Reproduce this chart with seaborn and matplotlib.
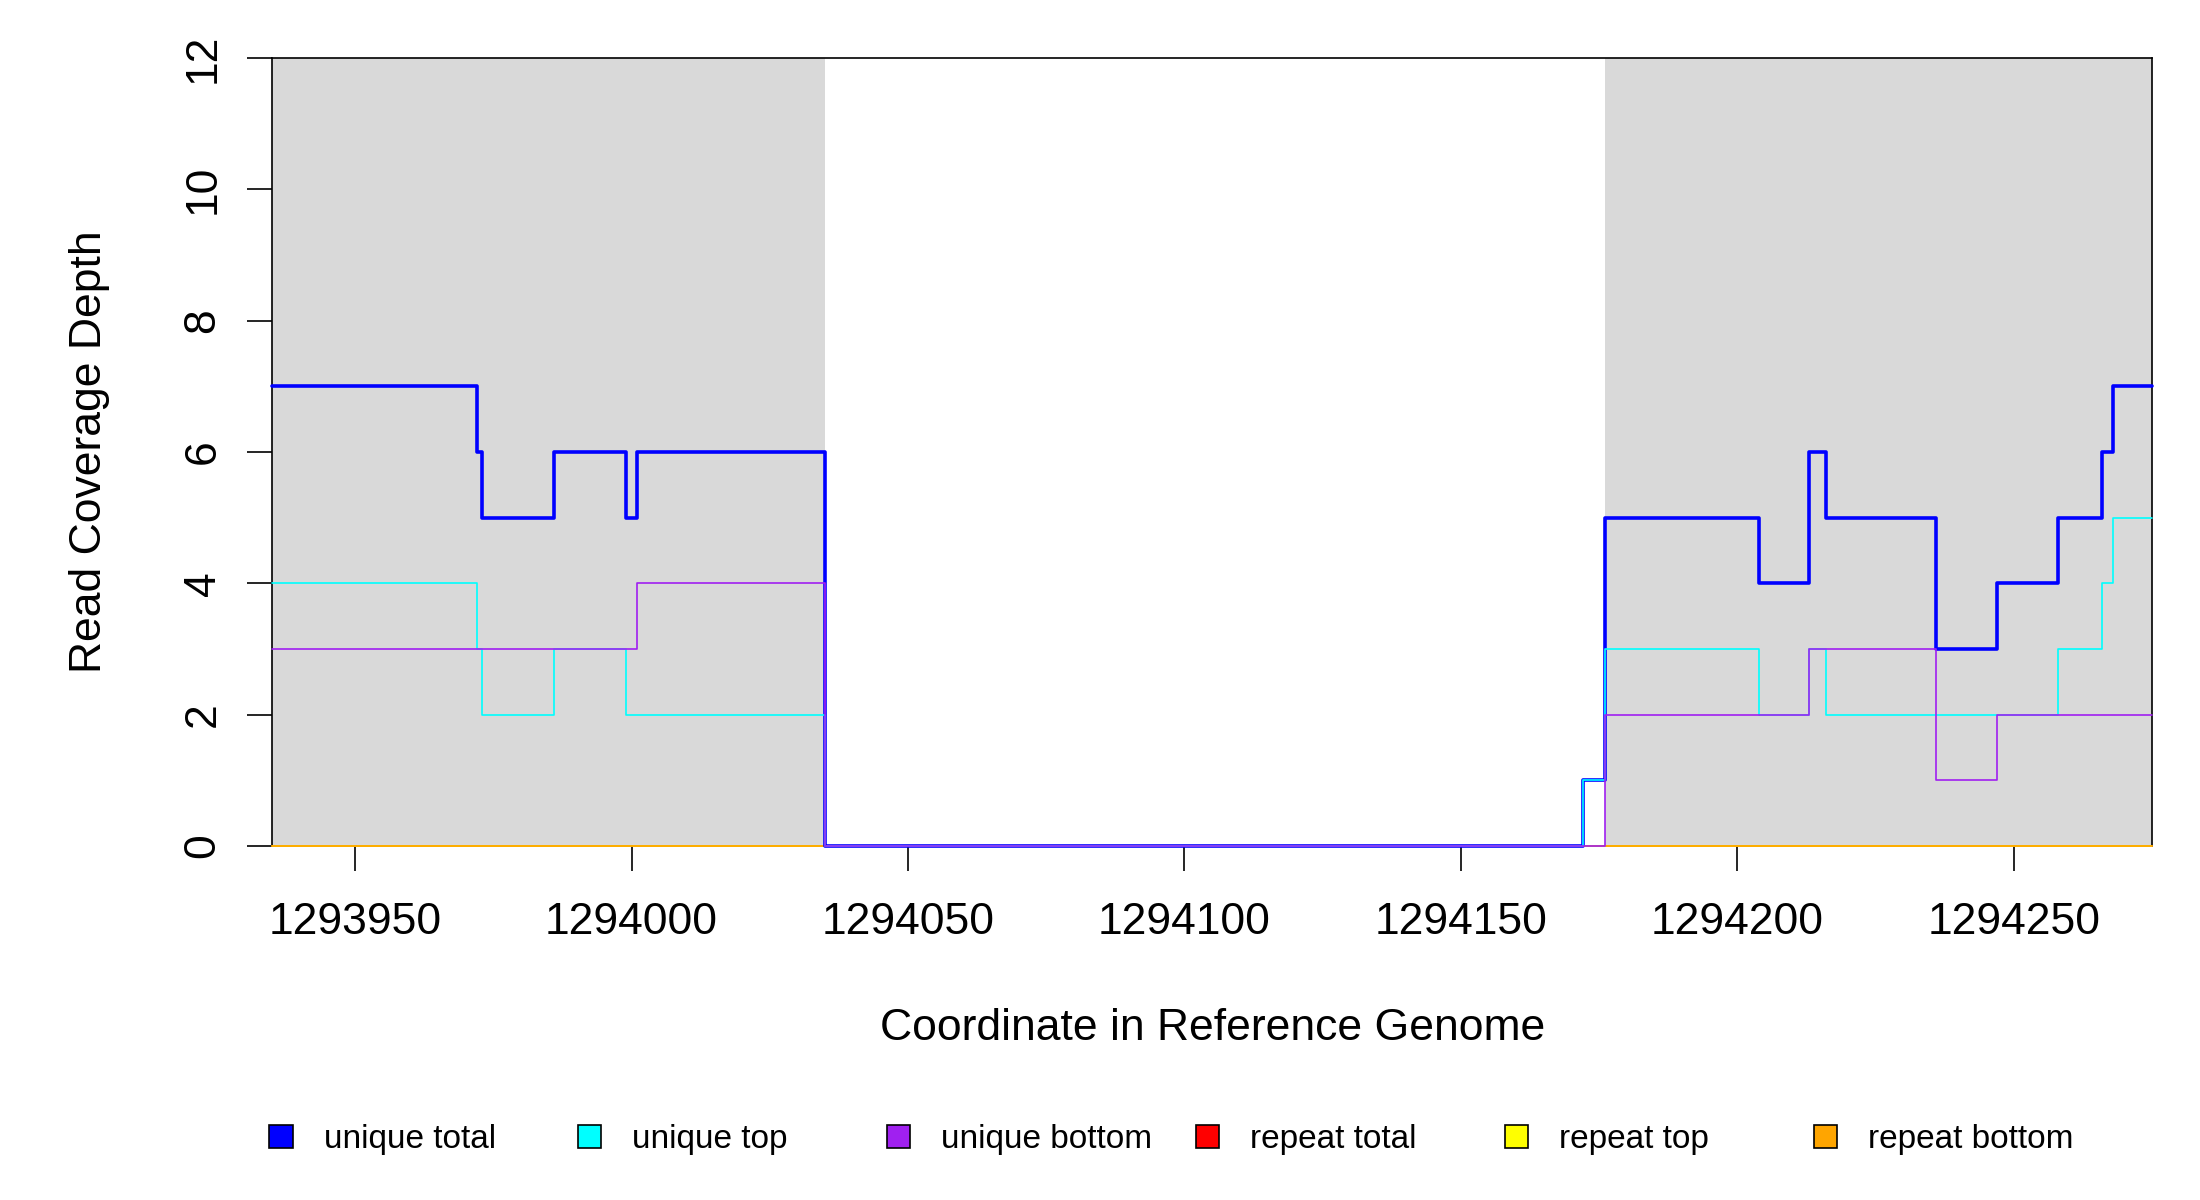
import pandas as pd
import matplotlib
matplotlib.use("Agg")
import matplotlib.pyplot as plt
from matplotlib.patches import Patch
import seaborn as sns

# step breakpoints (coordinate) and depth values, steps-post
unique_total_x = [1293935, 1293972, 1293973, 1293986, 1293999, 1294001, 1294035, 1294172, 1294176,
                  1294204, 1294213, 1294216, 1294236, 1294247, 1294258, 1294266, 1294268, 1294275]
unique_total_y = [7, 6, 5, 6, 5, 6, 0, 1, 5, 4, 6, 5, 3, 4, 5, 6, 7, 7]

unique_top_x = [1293935, 1293972, 1293973, 1293986, 1293999, 1294035, 1294172, 1294176, 1294204,
                1294213, 1294216, 1294258, 1294266, 1294268, 1294275]
unique_top_y = [4, 3, 2, 3, 2, 0, 1, 3, 2, 3, 2, 3, 4, 5, 5]

unique_bottom_x = [1293935, 1294001, 1294035, 1294176, 1294213, 1294236, 1294247, 1294275]
unique_bottom_y = [3, 4, 0, 2, 3, 1, 2, 2]

repeat_x = [1293935, 1294275]
repeat_total_y = [0, 0]
repeat_top_y = [0, 0]
repeat_bottom_y = [0, 0]

# shaded regions (start, end)
shaded_regions = [(1293935, 1294035), (1294176, 1294275)]

x_ticks = [1293950, 1294000, 1294050, 1294100, 1294150, 1294200, 1294250]
y_ticks = [0, 2, 4, 6, 8, 10, 12]

series_names = ["unique total", "unique top", "unique bottom", "repeat total", "repeat top", "repeat bottom"]
series_colors = ["#0000FF", "#00FFFF", "#A020F0", "#FF0000", "#FFFF00", "#FFA500"]

sns.set_style("ticks")
plt.rcParams["font.family"] = ["Liberation Sans", "DejaVu Sans"]
plt.rcParams["axes.edgecolor"] = "black"
plt.rcParams["xtick.color"] = "black"
plt.rcParams["ytick.color"] = "black"
plt.rcParams["text.color"] = "black"
plt.rcParams["axes.labelcolor"] = "black"

# long-form table
rows = []
for name, xs, ys in [("repeat total", repeat_x, repeat_total_y),
                     ("repeat top", repeat_x, repeat_top_y),
                     ("repeat bottom", repeat_x, repeat_bottom_y),
                     ("unique total", unique_total_x, unique_total_y),
                     ("unique top", unique_top_x, unique_top_y),
                     ("unique bottom", unique_bottom_x, unique_bottom_y)]:
  for x, y in zip(xs, ys):
    rows.append({"pos": x, "depth": y, "series": name})
df = pd.DataFrame(rows)

fig = plt.figure(figsize=(22, 12), dpi=100)
ax = fig.add_axes([0.1237, 0.2949, 0.8545, 0.6569])

for start, end in shaded_regions:
  ax.axvspan(start, end, color="#D9D9D9", lw=0, zorder=0)

color_map = dict(zip(series_names, series_colors))
widths = {"unique total": 2.6}
for name in ["repeat total", "repeat top", "repeat bottom", "unique total", "unique top", "unique bottom"]:
  sub = df[df["series"] == name]
  sns.lineplot(data=sub, x="pos", y="depth", ax=ax, color=color_map[name],
               linewidth=widths.get(name, 1.2), drawstyle="steps-post",
               estimator=None, sort=False, legend=False, zorder=3, clip_on=False)

ax.set_xlim(1293935, 1294275)
ax.set_ylim(0, 12)
ax.set_xticks(x_ticks)
ax.set_yticks(y_ticks)
ax.ticklabel_format(axis="x", useOffset=False, style="plain")
ax.tick_params(axis="both", length=18, width=1.2, labelsize=32)
ax.tick_params(axis="x", pad=22)
ax.tick_params(axis="y", pad=17, labelrotation=90)
for lab in ax.get_yticklabels():
  lab.set_va("center")
for sp in ax.spines.values():
  sp.set_linewidth(1.2)

ax.set_xlabel("Coordinate in Reference Genome", fontsize=32)
ax.set_ylabel("Read Coverage Depth", fontsize=32)
ax.xaxis.set_label_coords(0.5004, -0.205)
ax.yaxis.set_label_coords(-0.086, 0.5)

# legend entries spaced evenly like base R legend
for i, (name, col) in enumerate(zip(series_names, series_colors)):
  fig.legend(handles=[Patch(facecolor=col, edgecolor="black", linewidth=1.2, label=name)],
             loc="center left", bbox_to_anchor=(0.1224 + i * 0.1404, 0.0505),
             frameon=False, fontsize=24, handlelength=0.7, handleheight=0.7,
             handletextpad=0.93, borderpad=0, borderaxespad=0)

fig.savefig("out.png", dpi=100)
